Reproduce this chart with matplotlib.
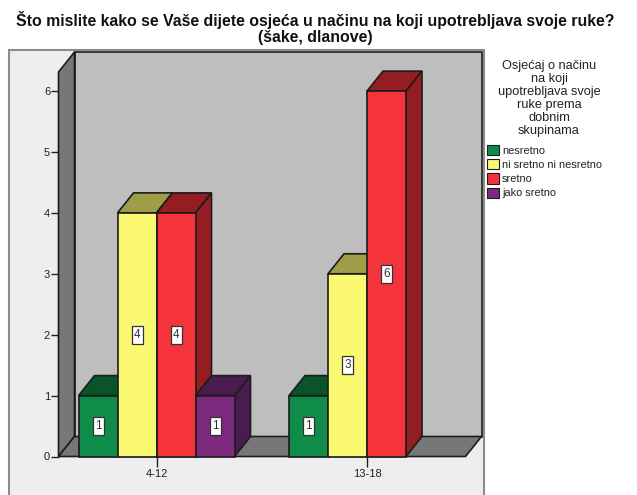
# -*- coding: utf-8 -*-
import matplotlib
matplotlib.use('Agg')
import matplotlib.pyplot as plt
from matplotlib.patches import Polygon, Rectangle, Patch

plt.rcParams['font.family'] = ['Liberation Sans', 'DejaVu Sans']

# Podaci
grupe = ['4-12', '13-18']
nesretno = [1, 1]
ni_ni = [4, 3]
sretno = [4, 6]
jako_sretno = [1, 0]
y_ticks = [0, 1, 2, 3, 4, 5, 6]
naslov = 'Što mislite kako se Vaše dijete osjeća u načinu na koji upotrebljava svoje ruke?\n(šake, dlanove)'
legenda_naslov = 'Osjećaj o načinu\nna koji\nupotrebljava svoje\nruke prema\ndobnim\nskupinama'
kategorije = ['nesretno', 'ni sretno ni nesretno', 'sretno', 'jako sretno']

serije = [nesretno, ni_ni, sretno, jako_sretno]
boje = ['#0F8C4A', '#FBF871', '#F4333A', '#7D2A7E']
boje_vrh = ['#0A5429', '#9F9D47', '#941D22', '#4A1B4E']
boje_bok = ['#0A5429', '#9F9D47', '#941D22', '#4A1B4E']
rub = '#1c1c1c'

W, H = 637, 495
fig = plt.figure(figsize=(W / 100, H / 100), dpi=100, facecolor='white')

# vanjski panel
fig.add_artist(Rectangle((9 / W, -0.02), (484 - 9) / W, (H - 50) / H + 0.02, zorder=-1,
                         transform=fig.transFigure, fc='#EEEEEE', ec='#8C8C8C', lw=1.5))

# osi: prednji rub poda od x=58.5 do 465.5, y od 456.5 do 72
x0, x1, y0, y1 = 58.5, 465.5, 456.5, 72
ax = fig.add_axes([x0 / W, 1 - y0 / H, (x1 - x0) / W, (y0 - y1) / H])
ax.patch.set_visible(False)
px_x = 210.5
px_y = 60.9
ax.set_xlim((x0 - 156.5) / px_x, (x1 - 156.5) / px_x)
ax.set_ylim(0, (y0 - y1) / px_y)
dx = 16 / px_x
dy = 20 / px_y
sirina = 39 / px_x
xl, xr = ax.get_xlim()
yt = ax.get_ylim()[1]


def poly(pts, fc, z):
    ax.add_patch(Polygon(pts, closed=True, fc=fc, ec=rub, lw=1.2, clip_on=False, zorder=z))


# zidovi i pod
poly([(xl + dx, dy), (xr + dx, dy), (xr + dx, yt + dy), (xl + dx, yt + dy)], '#BEBEBE', 1)
poly([(xl, 0), (xl + dx, dy), (xl + dx, yt + dy), (xl, yt)], '#777777', 2)
poly([(xl, 0), (xr, 0), (xr + dx, dy), (xl + dx, dy)], '#777777', 2)

# stupci
z = 3
for g in range(len(grupe)):
    for s in range(len(serije)):
        v = serije[s][g]
        if v == 0:
            continue
        x = g + (s - 2) * sirina
        poly([(x, v), (x + dx, v + dy), (x + sirina + dx, v + dy), (x + sirina, v)], boje_vrh[s], z)
        poly([(x + sirina, 0), (x + sirina + dx, dy), (x + sirina + dx, v + dy), (x + sirina, v)], boje_bok[s], z)
        ax.bar(x, v, sirina, align='edge', color=boje[s], edgecolor=rub, lw=1.2, clip_on=False, zorder=z + 0.5)
        # bijela oznaka vrijednosti
        ax.add_patch(Rectangle((x + sirina / 2 - 5.5 / px_x, v / 2 - 9 / px_y), 11 / px_x, 18 / px_y,
                               fc='white', ec='#333333', lw=0.9, zorder=49))
        ax.text(x + sirina / 2, v / 2, str(v), ha='center', va='center', fontsize=8.5, color='#333333', zorder=50)
        z += 1

# ose
ax.set_xticks(range(len(grupe)))
ax.set_xticklabels(grupe)
ax.set_yticks(y_ticks)
ax.tick_params(axis='both', labelsize=8, colors='#222222', width=1.0, length=5.5, pad=0.5)
ax.tick_params(axis='x', length=7, pad=2)
for sp in ax.spines.values():
    sp.set_visible(False)

fig.text(315 / W, 1 - 28 / H, naslov, ha='center', va='center', fontsize=11.4, fontweight='bold',
         color='#111111', linespacing=1.12)

# legenda
fig.text(549 / W, 1 - 98.5 / H, legenda_naslov, ha='center', va='center', fontsize=9.2, color='#222222',
         linespacing=1.11)
rucke = [Patch(fc=boje[i], ec=rub, lw=0.8, label=kategorije[i]) for i in range(len(kategorije))]
fig.legend(handles=rucke, loc='upper left', bbox_to_anchor=(485 / W, 1 - 143 / H), frameon=False,
           fontsize=7.9, labelcolor='#222222', handlelength=1.05, handleheight=1.05, handletextpad=0.3,
           labelspacing=0.3, borderpad=0.2, borderaxespad=0)

fig.savefig('out.png', dpi=100)
